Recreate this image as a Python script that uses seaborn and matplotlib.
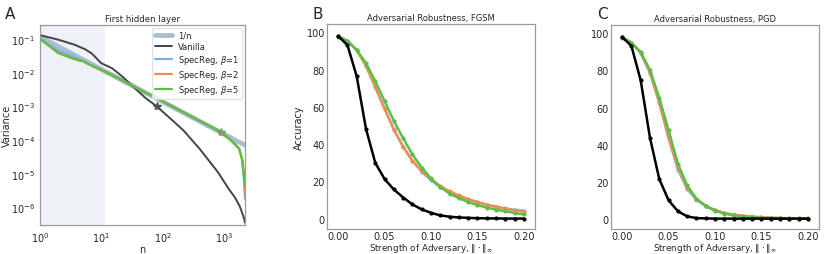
import matplotlib
matplotlib.use("Agg")
import matplotlib.pyplot as plt
import pandas as pd
import seaborn as sns

sns.set_style("white")
plt.rcParams["font.family"] = ["DejaVu Sans"]
plt.rcParams["mathtext.fontset"] = "dejavusans"

# ---- panel A: variance spectrum of the first hidden layer ----
n_ref = [1, 2200]
var_ref = [0.115, 7.0e-5]

n_vanilla = [1, 2, 3.7, 5.5, 7, 10, 15, 22, 30, 52, 80, 150, 220, 400, 800, 1200, 1500, 1800, 2100, 2200]
var_vanilla = [0.13, 0.095, 0.067, 0.049, 0.037, 0.019, 0.0135, 0.0077, 0.0045, 0.0018, 1.0e-3,
               3.6e-4, 1.9e-4, 5.5e-5, 1.1e-5, 3.5e-6, 2.0e-6, 1.1e-6, 5.0e-7, 3.5e-7]

n_spec = [1, 2, 3, 4, 5, 7, 10, 15, 25, 50, 100, 200, 400, 890, 1370, 1770, 2000, 2100, 2200]
var_b1 = [0.105, 0.045, 0.033, 0.027, 0.023, 0.0165, 0.0122, 0.0086, 0.0052, 0.0027, 0.0014,
          7.2e-4, 3.7e-4, 1.75e-4, 9.0e-5, 5.5e-5, 2.3e-5, 8.0e-6, 1.8e-6]
var_b2 = [0.1, 0.039, 0.029, 0.024, 0.022, 0.016, 0.012, 0.0085, 0.0052, 0.0027, 0.0014,
          7.2e-4, 3.7e-4, 1.75e-4, 9.0e-5, 5.5e-5, 2.4e-5, 9.0e-6, 3.0e-6]
var_b5 = [0.1, 0.038, 0.029, 0.024, 0.022, 0.016, 0.012, 0.0085, 0.0052, 0.0027, 0.0014,
          7.2e-4, 3.7e-4, 1.75e-4, 9.0e-5, 5.5e-5, 2.5e-5, 1.0e-5, 4.5e-6]
star_vanilla = 10
star_spec = 13

# ---- panels B, C: accuracy vs adversary strength ----
eps = [0.00, 0.01, 0.02, 0.03, 0.04, 0.05, 0.06, 0.07, 0.08, 0.09, 0.10,
       0.11, 0.12, 0.13, 0.14, 0.15, 0.16, 0.17, 0.18, 0.19, 0.20]

fgsm_vanilla = [98, 93.2, 76.4, 48.2, 30.0, 21.3, 15.7, 11.4, 7.7, 5.0, 3.2,
                1.8, 1.1, 0.7, 0.5, 0.3, 0.2, 0.2, 0.1, 0.1, 0.1]
fgsm_b1 = [98, 95.5, 90.5, 82.2, 71.0, 59.2, 48.0, 38.5, 31.0, 25.2, 20.6,
           17.0, 14.2, 12.0, 10.2, 8.8, 7.6, 6.5, 5.6, 4.8, 4.4]
fgsm_b2 = [98, 95.5, 90.5, 82.0, 70.5, 58.8, 47.8, 38.6, 31.2, 25.6, 21.2,
           17.6, 14.8, 12.5, 10.6, 9.0, 7.6, 6.4, 5.4, 4.5, 3.8]
fgsm_b5 = [97.5, 95.5, 90.5, 83.5, 73.8, 63.2, 52.5, 43.2, 34.5, 27.5, 21.6,
           17.0, 13.5, 11.0, 9.0, 7.3, 6.0, 4.9, 4.0, 3.1, 2.3]

pgd_vanilla = [98, 93.2, 74.6, 43.6, 21.4, 10.0, 4.1, 1.3, 0.4, 0.2, 0.1,
               0.1, 0.1, 0.1, 0.1, 0.1, 0.1, 0.1, 0.1, 0.1, 0.1]
pgd_b1 = [98, 95, 89.3, 78.6, 62.5, 43.5, 26.5, 16.0, 10.2, 6.8, 4.6,
          3.2, 2.3, 1.7, 1.2, 0.9, 0.6, 0.4, 0.3, 0.2, 0.2]
pgd_b2 = [98, 95, 89.5, 78.8, 62.8, 44.0, 27.5, 16.8, 10.6, 7.0, 4.7,
          3.2, 2.2, 1.6, 1.1, 0.8, 0.6, 0.4, 0.3, 0.2, 0.2]
pgd_b5 = [97.5, 95, 90, 80.2, 65.2, 47.8, 29.8, 18.0, 10.8, 7.0, 4.3,
          2.8, 1.8, 1.2, 0.8, 0.5, 0.3, 0.2, 0.1, 0.1, 0.1]

C_REF = "#a9bfd1"
C_VAN = "#444444"
C_B1 = "#7cb0ea"
C_B2 = "#f58b4c"
C_B5 = "#5cbf46"
SPINE = "#9a9a9a"


def style_axes(ax, tick_len):
    for s in ax.spines.values():
        s.set_color(SPINE)
        s.set_linewidth(0.9)
    ax.tick_params(which="both", labelsize=7, length=tick_len, width=0.6,
                   color="#777777", pad=1.5)
    ax.tick_params(which="minor", length=tick_len * 0.6)


def draw_spectrum(ax):
    ax.set_xscale("log")
    ax.set_yscale("log")
    ax.axvspan(1, 11, color="#eef2f6", zorder=0)
    sns.lineplot(x=n_ref, y=var_ref, ax=ax, color=C_REF, lw=3.5, label="1/n")
    sns.lineplot(x=n_vanilla, y=var_vanilla, ax=ax, color=C_VAN, lw=1.4, label="Vanilla")
    sns.lineplot(x=n_spec, y=var_b1, ax=ax, color=C_B1, lw=1.6, label=r"SpecReg, $\beta$=1")
    sns.lineplot(x=n_spec, y=var_b2, ax=ax, color=C_B2, lw=1.6, label=r"SpecReg, $\beta$=2")
    sns.lineplot(x=n_spec, y=var_b5, ax=ax, color=C_B5, lw=1.6, label=r"SpecReg, $\beta$=5")
    ax.plot(n_vanilla[star_vanilla], var_vanilla[star_vanilla], marker="*", ms=6, color="#555555")
    ax.plot(n_spec[star_spec], var_b5[star_spec], marker="*", ms=6, color="#7f9f70")
    ax.set_xlim(1, 2200)
    ax.set_ylim(3e-7, 0.26)
    ax.set_title("First hidden layer", fontsize=6.2, pad=3)
    ax.set_xlabel("n", fontsize=7, labelpad=0)
    ax.set_ylabel("Variance", fontsize=7)
    ax.yaxis.set_label_coords(-0.135, 0.5)
    leg = ax.legend(loc="upper right", fontsize=6, frameon=True, handlelength=2.0,
                    borderaxespad=0.35, labelspacing=0.25, borderpad=0.35)
    leg.get_frame().set_edgecolor("#dddddd")
    style_axes(ax, 2)


def draw_robustness(ax, title, vanilla, b1, b2, b5):
    df = pd.DataFrame({"eps": eps, "Vanilla": vanilla, "b1": b1, "b2": b2, "b5": b5})
    specs = [("b1", C_B1, 0.9), ("b2", C_B2, 0.9), ("b5", C_B5, 1.0), ("Vanilla", "black", 1.0)]
    for col, color, alpha in specs:
        sns.lineplot(data=df, x="eps", y=col, ax=ax, color=color, lw=1.8, alpha=alpha,
                     marker="o", ms=3, markeredgewidth=0)
    ax.set_xlim(-0.012, 0.212)
    ax.set_ylim(-5.5, 104.5)
    ax.set_xticks([0.0, 0.05, 0.10, 0.15, 0.20])
    ax.set_xticklabels(["0.00", "0.05", "0.10", "0.15", "0.20"])
    ax.set_yticks([0, 20, 40, 60, 80, 100])
    ax.set_title(title, fontsize=6.0, pad=3)
    ax.set_xlabel(r"Strength of Adversary, $\|\cdot\|_\infty$", fontsize=6.3, labelpad=0)
    ax.set_ylabel("")
    style_axes(ax, 0)


fig = plt.figure(figsize=(8.3, 2.55), dpi=100)
ax_a = fig.add_axes([40 / 830, 1 - 226 / 255, 205 / 830, 200 / 255])
ax_b = fig.add_axes([327 / 830, 1 - 230 / 255, 208 / 830, 205 / 255])
ax_c = fig.add_axes([611 / 830, 1 - 230 / 255, 208 / 830, 204 / 255])

draw_spectrum(ax_a)
draw_robustness(ax_b, "Adversarial Robustness, FGSM", fgsm_vanilla, fgsm_b1, fgsm_b2, fgsm_b5)
ax_b.set_ylabel("Accuracy", fontsize=7)
ax_b.yaxis.set_label_coords(-0.11, 0.5)
draw_robustness(ax_c, "Adversarial Robustness, PGD", pgd_vanilla, pgd_b1, pgd_b2, pgd_b5)

fig.text(5 / 830, 1 - 19 / 255, "A", fontsize=11)
fig.text(313 / 830, 1 - 19 / 255, "B", fontsize=11)
fig.text(597 / 830, 1 - 19 / 255, "C", fontsize=11)

fig.savefig("out.png", dpi=100)
